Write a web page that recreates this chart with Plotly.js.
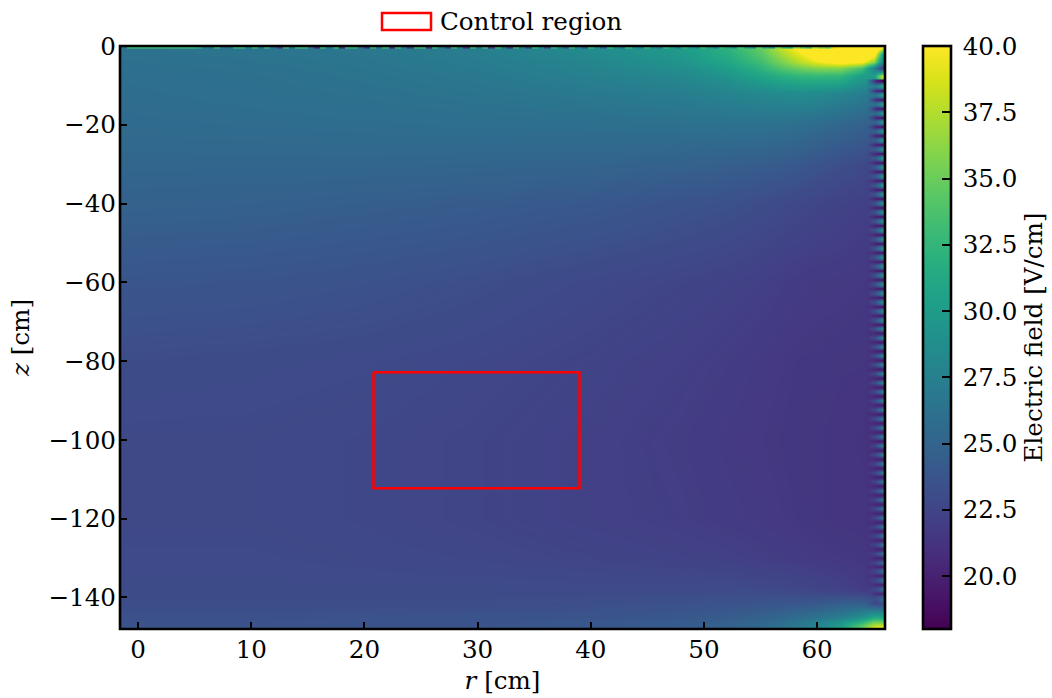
<!DOCTYPE html>
<html><head><meta charset="utf-8">
<script src="https://cdn.plot.ly/plotly-3.0.1.min.js"></script>
<style>html,body{margin:0;padding:0;background:#fff}</style></head>
<body><div id="chart" style="width:1052px;height:698px"></div>
<script>
const serif = '"DejaVu Serif", serif';
// main field: r nodes, z nodes, field in V/cm
const rNodes = [-1.6,10,20,30,40,48,52,55,57,58.5,60,62,64,65,66];
const zNodes = [0,-2,-4,-5.5,-7.6,-12,-20,-30,-40,-60,-80,-100,-120,-130,-138,-142,-145,-146.5,-148];
const field = [
[26.3,26.5,26.8,27.4,28.6,30.0,32.2,35.0,38.6,41.0,44.0,48.0,48.0,46.0,40.0],
[26.2,26.4,26.7,27.3,28.3,29.7,31.6,34.2,37.2,39.4,41.8,44.5,44.5,41.5,27.0],
[26.1,26.3,26.6,27.1,28.0,29.3,30.9,33.2,35.7,37.6,39.3,41.0,40.0,36.0,25.0],
[26.0,26.2,26.5,27.0,27.8,28.8,30.2,32.2,34.1,35.2,35.9,36.0,33.5,27.5,19.5],
[25.9,26.1,26.4,26.8,27.5,28.2,29.2,30.8,31.8,32.4,32.6,32.4,30.0,30.0,41.0],
[25.8,26.0,26.2,26.5,26.9,27.3,27.8,28.2,28.5,28.6,28.5,28.0,27.3,26.8,26.5],
[25.6,25.7,25.8,25.9,26.0,26.1,26.2,26.2,26.1,25.9,25.6,25.2,24.8,24.6,24.4],
[25.2,25.2,25.2,25.1,25.0,24.8,24.6,24.4,24.2,24.0,23.7,23.3,22.9,22.7,22.5],
[24.8,24.7,24.5,24.3,24.0,23.6,23.4,23.1,22.9,22.7,22.5,22.3,22.1,22.0,21.9],
[23.8,23.7,23.5,23.2,22.8,22.5,22.3,22.1,21.9,21.8,21.7,21.7,21.6,21.5,21.4],
[23.1,23.0,22.9,22.7,22.4,22.1,21.9,21.7,21.6,21.5,21.5,21.4,21.4,21.3,21.2],
[22.8,22.8,22.7,22.5,22.2,21.9,21.7,21.6,21.5,21.4,21.4,21.3,21.2,21.1,21.1],
[22.8,22.8,22.7,22.5,22.2,22.0,21.8,21.7,21.6,21.5,21.4,21.3,21.3,21.2,21.2],
[22.9,22.9,22.8,22.7,22.5,22.3,22.2,22.0,21.9,21.8,21.7,21.6,21.5,21.4,21.4],
[23.0,23.0,23.0,23.0,23.0,23.0,23.0,22.9,22.8,22.7,22.5,22.3,21.9,21.7,21.6],
[23.2,23.2,23.2,23.2,23.3,23.5,23.7,23.8,24.0,24.1,24.3,24.8,25.0,24.0,23.5],
[23.4,23.4,23.5,23.6,23.7,24.0,24.3,24.8,25.3,25.8,26.3,27.2,29.0,31.0,31.0],
[23.5,23.5,23.6,23.7,23.9,24.2,24.7,25.3,26.0,26.8,27.6,29.5,33.0,36.0,36.0],
[23.5,23.5,23.6,23.8,24.0,24.3,24.8,25.5,26.3,27.1,28.0,30.5,36.0,40.0,42.0]
];
// ripple along the outer wall: inner, middle and outer columns of field values
const wallR = [64.4,64.41,65.2,65.85];
const wallInner = [28.3,27.8,27.4,27.0,26.7,26.4,26.1,25.7,25.4,25.0,24.6,
24.4,24.2,24.0,23.7,23.5,23.3,23.1,22.9,22.7,
22.6,22.5,22.4,22.3,22.2,22.2,22.1,22.1,
22.0,22.0,22.0,21.9,21.9,21.9,21.8,21.8,21.8,21.7,21.7,21.7,21.6,21.6,21.6,21.5,21.5,
21.5,21.5,21.5,21.4,21.4,21.4,21.4,21.4,21.4,21.3,21.3,21.3,21.3,21.3,21.3,21.3,21.3,21.3,
21.2,21.2,21.2,21.2,21.2,21.2,21.2,21.2,21.2,21.2,21.2,21.1,21.1,21.1,21.1,21.1,21.1,
21.1,21.1,21.1,21.1,21.1,21.2,21.2,21.2,21.2,21.2,21.2,21.2,21.2,21.2,21.2,21.2,21.2,
21.2,21.2,21.2,21.3,21.3,21.3,21.3,21.4,21.4,
21.4,21.4,21.4,21.4,21.5,21.5,21.6,21.8,22.6,23.4,24.2];
const wallMiddle = [20.6,28.0,20.4,27.3,20.2,26.7,20.1,26.1,20.0,25.7,19.9,
25.4,19.9,25.1,19.8,24.9,19.8,24.8,19.8,24.7,
19.7,24.7,19.7,24.6,19.7,24.6,19.7,24.5,
19.7,24.5,19.7,24.5,19.7,24.5,19.7,24.4,19.7,24.4,19.8,24.4,19.8,24.3,19.8,24.3,19.8,
24.3,19.8,24.2,19.8,24.2,19.8,24.2,19.8,24.1,19.8,24.1,19.9,24.0,19.9,24.0,19.9,23.9,19.9,
23.9,19.9,23.8,19.9,23.8,19.9,23.7,19.9,23.7,20.0,23.6,20.0,23.6,20.0,23.5,20.0,23.5,
20.0,23.4,20.0,23.4,20.0,23.3,20.0,23.3,20.0,23.2,20.0,23.2,20.1,23.1,20.1,23.1,20.1,
23.1,20.1,23.0,20.1,23.0,20.2,23.0,20.2,23.0,
20.2,23.0,20.3,23.0,20.4,23.1,20.5,23.2,20.8,23.4,22.5];
const wallOuter = [18.2,33.0,18.2,32.5,18.1,32.1,18.1,31.8,18.1,31.6,18.1,
31.5,18.1,31.4,18.1,31.3,18.1,31.3,18.1,31.2,
18.1,31.2,18.1,31.1,18.1,31.1,18.1,31.0,
18.1,31.0,18.1,30.9,18.1,30.9,18.1,30.8,18.1,30.8,18.2,30.7,18.2,30.6,18.2,30.5,18.2,
30.4,18.2,30.3,18.2,30.2,18.2,30.1,18.2,30.0,18.2,29.9,18.2,29.8,18.3,29.7,18.3,29.6,18.3,
29.5,18.3,29.4,18.3,29.3,18.3,29.2,18.3,29.1,18.4,29.0,18.4,28.9,18.4,28.8,18.4,28.7,
18.5,28.6,18.5,28.5,18.5,28.4,18.6,28.3,18.6,28.2,18.6,28.1,18.7,28.0,18.7,27.9,18.7,
27.7,18.8,27.5,18.8,27.4,18.9,27.2,18.9,27.0,
19.0,26.8,19.1,26.6,19.2,26.5,19.3,26.3,19.5,26.0,23.5];
// speckled first row of cells just under the top wall
const topRow = [33,33,33,33,33,33,33,33,33,33,33,32,27,26,33,27,26,33,33,27,33,26,33,26,22,33,26,33,33,27,21,33,26,33,21,33,33,26,21,33,26,33,21,33,27,22,33,33,21,33,27,22,33,27,21,33,26,33,22,33,27,21,33,27,22,33,29,23,33,28,24,33,28,24,33,29,25,33,29,26,33,29,27,33,29,27,33,30,27,32,30,28,33,30,28,33,31,29,34,31,29,35,32,30,36,33,32,37,35,33,38,36,35,39];
// control region corners
const regionR = [20.8,39,39,20.8,20.8];
const regionZ = [-82.8,-82.8,-112.3,-112.3,-82.8];
const xTicks = [0,10,20,30,40,50,60];
const yTicks = [0,-20,-40,-60,-80,-100,-120,-140];

const wallRows = wallInner.map((v,i)=>[v,v,wallMiddle[i],wallOuter[i]]);
const traces = [
 {type:'heatmap',x:rNodes,y:zNodes,z:field,zsmooth:'best',coloraxis:'coloraxis',hoverinfo:'skip'},
 {type:'heatmap',x:wallR,y0:-9.07,dy:-1.14,z:wallRows,zsmooth:'best',coloraxis:'coloraxis',hoverinfo:'skip'},
 {type:'heatmap',x0:-0.7,dx:0.55,y:[0.1,-0.6],z:[topRow],zsmooth:false,coloraxis:'coloraxis',hoverinfo:'skip'},
 {type:'scatter',mode:'lines',x:regionR,y:regionZ,line:{color:'#ff0000',width:2.5},showlegend:false,hoverinfo:'skip'}
];
const L=120,R=885,T=46,B=629;
const fs=24.6;
const axisCommon = {showline:false,ticks:'inside',ticklen:7,tickwidth:2,ticklabelstandoff:3,
 tickcolor:'#000',showgrid:false,zeroline:false,tickfont:{family:serif,size:fs,color:'#000'}};
const layout = {
 width:1052,height:698,margin:{l:L,r:1052-R,t:T,b:698-B,autoexpand:false},paper_bgcolor:'#fff',plot_bgcolor:'#fff',
 font:{family:serif,color:'#000',size:fs},showlegend:false,
 xaxis:Object.assign({},axisCommon,{range:[-1.6,66],tickmode:'array',tickvals:xTicks,
   title:{text:'<i>r</i> [cm]',font:{family:serif,size:fs},standoff:9}}),
 yaxis:Object.assign({},axisCommon,{range:[-148,0],tickmode:'array',tickvals:yTicks,
   title:{text:'<i>z</i> [cm]',font:{family:serif,size:fs},standoff:11}}),
 coloraxis:{cmin:18,cmax:40,colorscale:'Viridis',colorbar:{
   thickness:28,thicknessmode:'pixels',len:1,lenmode:'fraction',y:0.5,yanchor:'middle',x:(923-L)/(R-L),xanchor:'left',xpad:0,ypad:0,
   outlinecolor:'#000',outlinewidth:2.6,ticks:'inside',ticklen:10,tickwidth:2,tickcolor:'#000',
   tick0:20,dtick:2.5,tickformat:'.1f',tickprefix:'\u2009',tickfont:{family:serif,size:fs,color:'#000'},
   title:{text:'Electric field [V/cm]',side:'right',font:{family:serif,size:fs}}}},
 shapes:[
  {type:'rect',xref:'paper',yref:'paper',x0:0,x1:1,y0:0,y1:1,layer:'above',line:{color:'#000',width:2.6},fillcolor:'rgba(0,0,0,0)'},
  {type:'rect',xref:'paper',yref:'paper',x0:(382-L)/(R-L),x1:(431-L)/(R-L),
   y0:(B-30)/(B-T),y1:(B-13)/(B-T),line:{color:'#ff0000',width:2.5},fillcolor:'rgba(0,0,0,0)'}],
 annotations:[{xref:'paper',yref:'paper',x:(440-L)/(R-L),y:(B-21.5)/(B-T),xanchor:'left',yanchor:'middle',showarrow:false,
   text:'Control region',font:{family:serif,size:fs,color:'#000'},xshift:-2}]
};
Plotly.newPlot('chart',traces,layout,{displayModeBar:false,staticPlot:true});
</script></body></html>
